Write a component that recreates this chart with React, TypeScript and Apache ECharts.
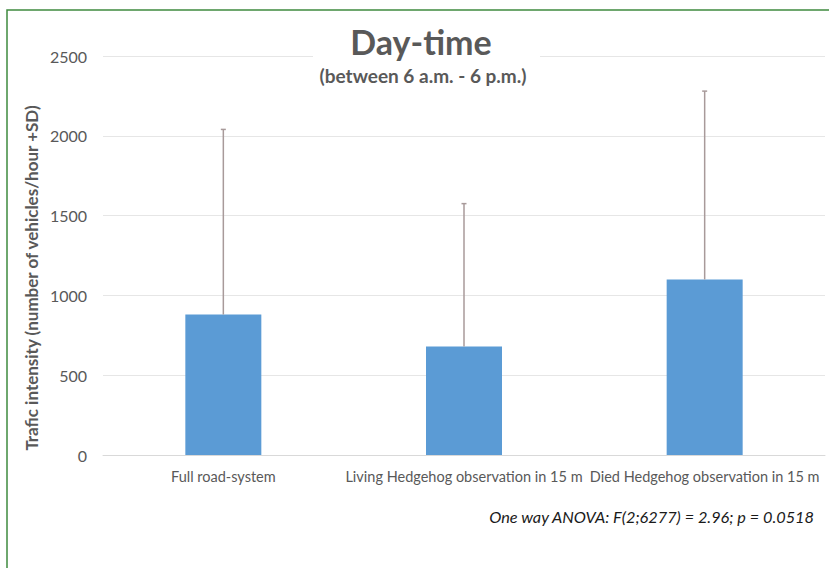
import React, { useEffect, useRef } from "react";
import * as echarts from "echarts";

const categories = [
  "Full road-system",
  "Living Hedgehog observation in 15 m",
  "Died Hedgehog observation in 15 m",
];
const means = [880, 680, 1100];
const upperSD = [2040, 1575, 2280];
const yTicks = [0, 500, 1000, 1500, 2000, 2500];

const TEXT = "#595959";
const FONT = "Lato, 'Open Sans', sans-serif";

export default function App() {
  const ref = useRef<HTMLDivElement>(null);
  useEffect(() => {
    const chart = echarts.init(ref.current!, null, { renderer: "svg" });
    const errData = categories.map((_, i) => [i, means[i], upperSD[i]]);
    chart.setOption({
      animation: false,
      backgroundColor: "#ffffff",
      textStyle: { fontFamily: FONT },
      grid: { left: 103, right: 4, top: 56, bottom: 113, containLabel: false },
      xAxis: {
        type: "category",
        data: categories,
        axisLine: { show: true, lineStyle: { color: "#d9d9d9", width: 1 } },
        axisTick: { show: false },
        axisLabel: { color: TEXT, fontSize: 14.5, margin: 14, fontFamily: FONT, interval: 0 },
      },
      yAxis: {
        type: "value",
        min: yTicks[0],
        max: yTicks[yTicks.length - 1],
        interval: 500,
        axisLine: { show: false },
        axisTick: { show: false },
        axisLabel: {
          color: TEXT,
          fontSize: 16,
          margin: 16,
          fontFamily: FONT,
          formatter: (v: number) => String(v),
        },
        splitLine: { lineStyle: { color: "#e6e6e6", width: 1 } },
      },
      series: [
        {
          type: "bar",
          data: means,
          barWidth: 76,
          itemStyle: { color: "#5b9bd5" },
          z: 2,
        },
        {
          type: "custom",
          data: errData,
          z: 3,
          renderItem: (params: any, api: any) => {
            const x = api.coord([api.value(0), api.value(1)]);
            const top = api.coord([api.value(0), api.value(2)]);
            const style = { stroke: "#a89a9a", lineWidth: 1.5 };
            return {
              type: "group",
              children: [
                { type: "line", shape: { x1: x[0], y1: x[1], x2: top[0], y2: top[1] }, style },
                { type: "line", shape: { x1: top[0] - 2.5, y1: top[1], x2: top[0] + 2.5, y2: top[1] }, style },
              ],
            };
          },
        },
      ],
      graphic: [
        {
          type: "rect",
          z: 100,
          shape: { x: 313, y: 20, width: 227, height: 44 },
          style: { fill: "#ffffff" },
        },
        {
          type: "text",
          z: 101,
          x: 421,
          y: 41,
          style: {
            text: "Day-time",
            font: `bold 34px ${FONT}`,
            fill: TEXT,
            align: "center",
            verticalAlign: "middle",
          },
        },
        {
          type: "text",
          z: 101,
          x: 423,
          y: 75,
          style: {
            text: "(between 6 a.m. - 6 p.m.)",
            font: `bold 19px ${FONT}`,
            fill: TEXT,
            align: "center",
            verticalAlign: "middle",
          },
        },
        {
          type: "text",
          z: 101,
          x: 31,
          y: 278,
          rotation: Math.PI / 2,
          style: {
            text: "Trafic intensity (number of vehicles/hour +SD)",
            font: `bold 17px ${FONT}`,
            fill: TEXT,
            align: "center",
            verticalAlign: "middle",
          },
        },
        {
          type: "text",
          z: 101,
          x: 814,
          y: 516,
          style: {
            text: "One way ANOVA: F(2;6277) = 2.96; p = 0.0518",
            font: `italic 16.3px ${FONT}`,
            fill: "#1a1a1a",
            align: "right",
            verticalAlign: "middle",
          },
        },
        {
          type: "rect",
          z: 102,
          shape: { x: 7, y: 10, width: 840, height: 580 },
          style: { fill: "none", stroke: "#3f8a3f", lineWidth: 1.5 },
        },
      ],
    });
    return () => chart.dispose();
  }, []);
  return (
    <div
      ref={ref}
      style={{ position: "absolute", left: 0, top: 0, width: 829, height: 568 }}
    />
  );
}
